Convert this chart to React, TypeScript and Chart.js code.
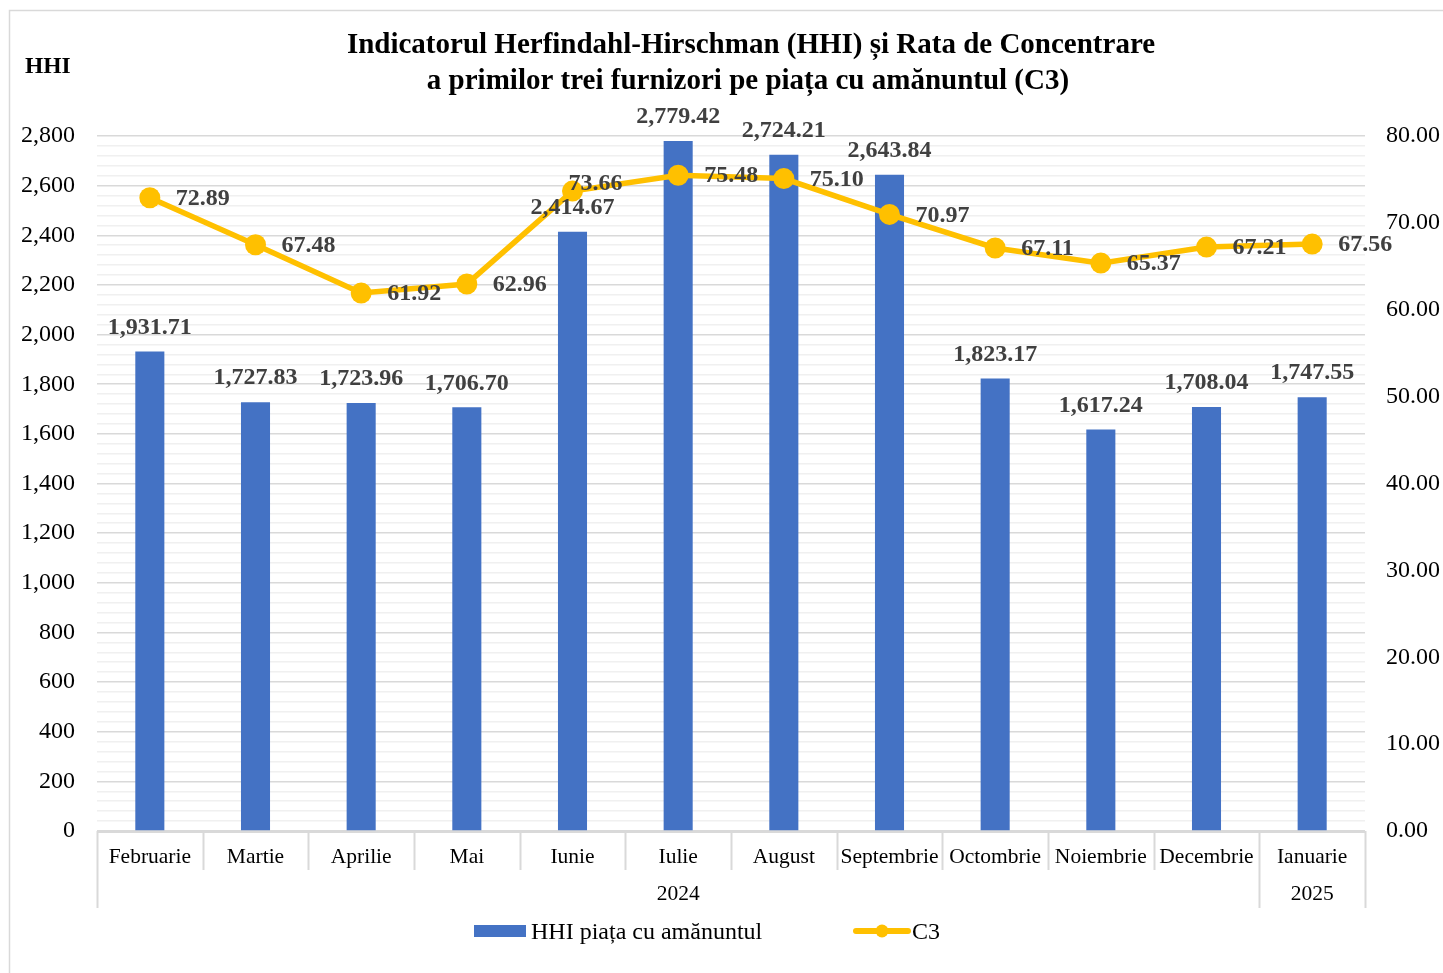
import React, { useEffect, useRef } from 'react';
import { Chart, registerables } from 'chart.js';

Chart.register(...registerables);

const months = ['Februarie', 'Martie', 'Aprilie', 'Mai', 'Iunie', 'Iulie', 'August', 'Septembrie', 'Octombrie', 'Noiembrie', 'Decembrie', 'Ianuarie'];
const yearLabels = ['2024', '2025'];
const yearStarts = [0, 11];
const yearEnds = [10, 11];
const hhiValues = [1931.71, 1727.83, 1723.96, 1706.7, 2414.67, 2779.42, 2724.21, 2643.84, 1823.17, 1617.24, 1708.04, 1747.55];
const c3Values = [72.89, 67.48, 61.92, 62.96, 73.66, 75.48, 75.1, 70.97, 67.11, 65.37, 67.21, 67.56];
const titleLines = ['Indicatorul Herfindahl-Hirschman (HHI) și Rata de Concentrare', 'a primilor trei furnizori pe piața cu amănuntul (C3)'];
const hhiSeriesName = 'HHI piața cu amănuntul';
const c3SeriesName = 'C3';
const leftAxisTitle = 'HHI';

const SERIF = '"Liberation Serif", "Times New Roman", serif';
const BLUE = '#4472C4';
const YELLOW = '#FFC000';
const LABEL_COLOR = '#404040';
const GRID_MAJOR = '#d9d9d9';
const GRID_MINOR = '#f0f0f0';

const fmt2 = (v: number) => v.toLocaleString('en-US', { minimumFractionDigits: 2, maximumFractionDigits: 2 });

const decorPlugin = {
  id: 'decor',
  afterDatasetsDraw(chart: any) {
    const ctx = chart.ctx as CanvasRenderingContext2D;
    ctx.save();

    // bar value labels
    ctx.fillStyle = LABEL_COLOR;
    ctx.font = `bold 24px ${SERIF}`;
    ctx.textAlign = 'center';
    ctx.textBaseline = 'middle';
    const barMeta = chart.getDatasetMeta(0);
    barMeta.data.forEach((el: any, i: number) => {
      ctx.fillText(fmt2(hhiValues[i]), el.x, el.y - 24);
    });

    // line value labels
    const lineMeta = chart.getDatasetMeta(1);
    ctx.textAlign = 'left';
    lineMeta.data.forEach((el: any, i: number) => {
      let dx = 26;
      let dy = 1;
      if (i === 4) { dx = -4; dy = -7; }
      ctx.fillText(c3Values[i].toFixed(2), el.x + dx, el.y + dy);
    });
    ctx.restore();
  },
  afterDraw(chart: any) {
    const ctx = chart.ctx as CanvasRenderingContext2D;
    const area = chart.chartArea;
    ctx.save();

    // outer frame
    ctx.strokeStyle = GRID_MAJOR;
    ctx.lineWidth = 1.5;
    ctx.beginPath();
    ctx.moveTo(9.5, chart.height);
    ctx.lineTo(9.5, 10.5);
    ctx.lineTo(chart.width, 10.5);
    ctx.stroke();

    // title
    ctx.fillStyle = '#000';
    ctx.textAlign = 'center';
    ctx.textBaseline = 'middle';
    ctx.font = `bold 29px ${SERIF}`;
    ctx.fillText(titleLines[0], 751, 46);
    ctx.fillText(titleLines[1], 748, 82);

    // left axis title
    ctx.textAlign = 'left';
    ctx.font = `bold 23.5px ${SERIF}`;
    ctx.fillText(leftAxisTitle, 25, 67);

    // x axis line, separators, labels
    const n = months.length;
    const w = (area.right - area.left) / n;
    ctx.strokeStyle = GRID_MAJOR;
    ctx.lineWidth = 2;
    ctx.beginPath();
    ctx.moveTo(area.left, area.bottom + 1);
    ctx.lineTo(area.right, area.bottom + 1);
    ctx.stroke();
    const groupEdges = new Set<number>();
    yearStarts.forEach((s) => groupEdges.add(s));
    groupEdges.add(n);
    for (let i = 0; i <= n; i++) {
      const x = Math.round(area.left + i * w) + 0.5;
      ctx.beginPath();
      ctx.moveTo(x, area.bottom);
      ctx.lineTo(x, groupEdges.has(i) ? area.bottom + 77 : area.bottom + 39);
      ctx.stroke();
    }
    ctx.fillStyle = '#000';
    ctx.textAlign = 'center';
    ctx.font = `21.5px ${SERIF}`;
    months.forEach((m, i) => {
      ctx.fillText(m, area.left + (i + 0.5) * w, area.bottom + 26);
    });
    yearLabels.forEach((y, k) => {
      const cx = area.left + ((yearStarts[k] + yearEnds[k] + 1) / 2) * w;
      ctx.fillText(y, cx, area.bottom + 63);
    });

    // legend
    ctx.fillStyle = BLUE;
    ctx.fillRect(474, 925, 52, 12);
    ctx.fillStyle = '#000';
    ctx.textAlign = 'left';
    ctx.font = `24px ${SERIF}`;
    ctx.fillText(hhiSeriesName, 531, 933);
    ctx.strokeStyle = YELLOW;
    ctx.lineWidth = 6;
    ctx.lineCap = 'round';
    ctx.beginPath();
    ctx.moveTo(856, 931);
    ctx.lineTo(908, 931);
    ctx.stroke();
    ctx.fillStyle = YELLOW;
    ctx.beginPath();
    ctx.arc(882, 931, 6.5, 0, Math.PI * 2);
    ctx.fill();
    ctx.fillStyle = '#000';
    ctx.fillText(c3SeriesName, 912, 933);

    ctx.restore();
  },
};

export default function App() {
  const canvasRef = useRef<HTMLCanvasElement | null>(null);

  useEffect(() => {
    const canvas = canvasRef.current;
    if (!canvas) return;
    const chart = new Chart(canvas, {
      type: 'bar',
      data: {
        labels: months,
        datasets: [
          {
            type: 'bar',
            label: hhiSeriesName,
            data: hhiValues,
            backgroundColor: BLUE,
            borderWidth: 0,
            barPercentage: 0.275,
            categoryPercentage: 1,
            yAxisID: 'y',
            order: 2,
          },
          {
            type: 'line',
            label: c3SeriesName,
            data: c3Values,
            borderColor: YELLOW,
            backgroundColor: YELLOW,
            borderWidth: 5.5,
            pointRadius: 10.5,
            pointBorderWidth: 0,
            pointBackgroundColor: YELLOW,
            tension: 0,
            yAxisID: 'y1',
            order: 1,
          } as any,
        ],
      },
      options: {
        animation: false,
        responsive: false,
        maintainAspectRatio: false,
        layout: { padding: { top: 136, left: 0, right: 0, bottom: 0 } },
        plugins: {
          legend: { display: false },
          tooltip: { enabled: false },
          title: { display: false },
        },
        scales: {
          x: {
            type: 'category',
            offset: true,
            grid: { display: false },
            border: { display: false },
            ticks: { display: false },
            afterFit: (s: any) => { s.height = 142; },
          },
          y: {
            type: 'linear',
            position: 'left',
            min: 0,
            max: 2800,
            border: { display: false },
            grid: {
              drawTicks: false,
              lineWidth: 1.5,
              color: (c: any) => (c.tick && c.tick.value % 200 === 0 ? GRID_MAJOR : GRID_MINOR),
            },
            ticks: {
              stepSize: 40,
              maxTicksLimit: 200,
              autoSkip: false,
              padding: 22,
              color: '#000',
              font: { family: SERIF, size: 24 },
              callback: (v: any) => (Number(v) % 200 === 0 ? Number(v).toLocaleString('en-US') : ''),
            },
            afterFit: (s: any) => { s.width = 97; },
          },
          y1: {
            type: 'linear',
            position: 'right',
            min: 0,
            max: 80,
            border: { display: false },
            grid: { display: false, drawTicks: false },
            ticks: {
              stepSize: 10,
              autoSkip: false,
              padding: 21,
              color: '#000',
              font: { family: SERIF, size: 24 },
              callback: (v: any) => Number(v).toFixed(2),
            },
            afterFit: (s: any) => { s.width = 78; },
          },
        },
      },
      plugins: [decorPlugin],
    });
    return () => chart.destroy();
  }, []);

  return (
    <div style={{ position: 'fixed', left: 0, top: 0, width: 1443, height: 973, background: '#fff' }}>
      <canvas ref={canvasRef} width={1443} height={973} style={{ width: 1443, height: 973, display: 'block' }} />
    </div>
  );
}
